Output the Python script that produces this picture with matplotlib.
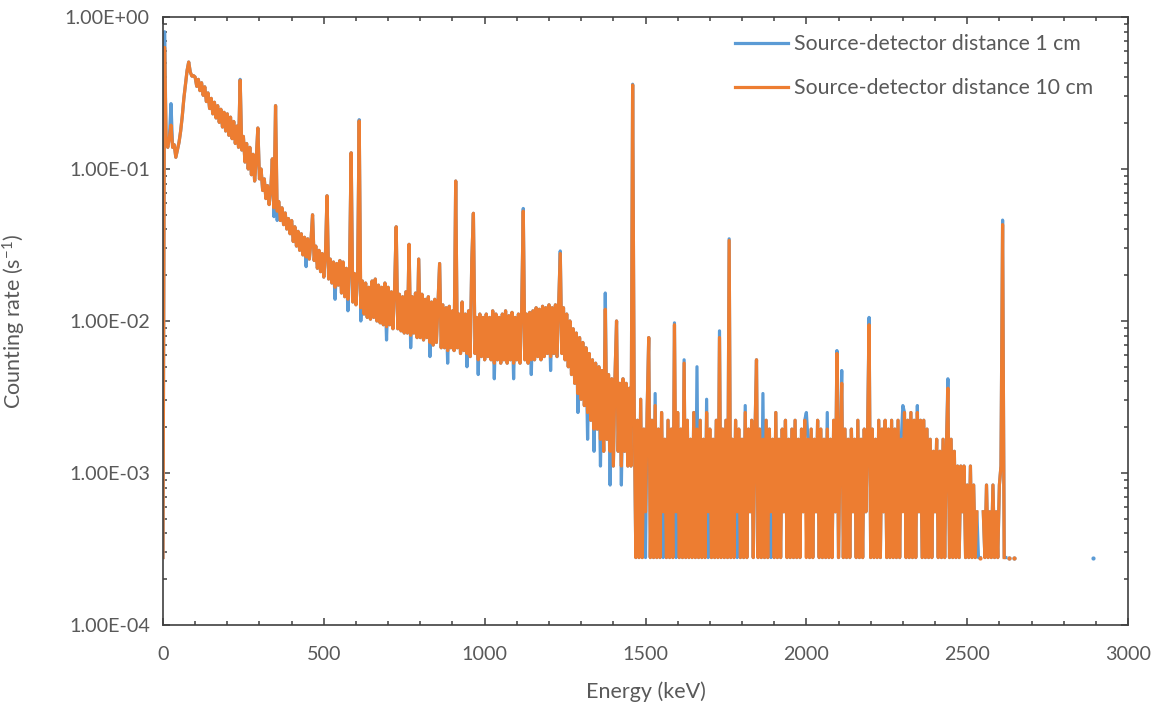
import numpy as np
import matplotlib.pyplot as plt
from matplotlib.ticker import MultipleLocator, LogLocator, FuncFormatter, NullFormatter

plt.rcParams['font.family'] = ['Lato', 'DejaVu Sans']
plt.rcParams['mathtext.fontset'] = 'custom'
plt.rcParams['mathtext.rm'] = 'Lato'
plt.rcParams['mathtext.default'] = 'regular'

# spectrum, counts per hour in 5 keV channels
# (rate in s^-1 = counts / 3600), 0 - 1460 keV
lo_counts = [
    1, 2270, 540, 500, 580, 700, 500, 520, 430, 480,
    540, 640, 800, 1050, 1300, 1600, 1820, 1560, 1470, 1480,
    1450, 1260, 1400, 1180, 1330, 1100, 1250, 1000, 1140, 900,
    1050, 830, 990, 780, 940, 730, 890, 680, 850, 640,
    830, 600, 790, 570, 740, 530, 690, 500, 1380, 480,
    590, 400, 530, 360, 500, 330, 450, 300, 420, 670,
    310, 360, 260, 310, 230, 280, 210, 260, 420, 200,
    940, 190, 220, 165, 200, 155, 185, 145, 170, 135,
    165, 120, 150, 112, 140, 105, 135, 98, 128, 95,
    125, 92, 120, 180, 90, 112, 80, 105, 76, 100,
    70, 96, 240, 68, 92, 64, 88, 60, 86, 62,
    90, 55, 88, 52, 80, 50, 78, 460, 48, 74,
    46, 70, 745, 44, 66, 40, 64, 38, 60, 37,
    66, 38, 68, 36, 62, 35, 60, 34, 64, 33,
    60, 34, 56, 32, 58, 150, 32, 54, 31, 52,
    30, 56, 30, 115, 29, 52, 30, 55, 28, 92,
    28, 54, 27, 50, 28, 52, 26, 48, 25, 50,
    26, 48, 86, 24, 46, 24, 44, 23, 45, 24,
    42, 23, 300, 24, 40, 22, 48, 23, 40, 22,
    42, 21, 90, 184, 22, 38, 20, 40, 21, 38,
    20, 40, 21, 38, 20, 42, 19, 40, 20, 38,
    19, 40, 20, 42, 19, 39, 20, 41, 19, 38,
    20, 40, 19, 42, 190, 20, 40, 19, 41, 20,
    42, 20, 44, 21, 43, 20, 45, 21, 44, 22,
    46, 21, 44, 22, 46, 21, 45, 100, 22, 44,
    20, 40, 18, 36, 16, 32, 14, 30, 12, 28,
    11, 26, 10, 24, 9, 22, 8, 20, 7, 19,
    7, 18, 6, 17, 5, 43, 6, 16, 5, 15,
    4, 15, 36, 5, 14, 4, 15, 5, 14, 4,
    13, 4, 1285,
]

# 1465 - 2660 keV
hi_counts = [
    9, 1, 8, 1, 11, 1, 7, 2, 9, 28, 1, 8, 1, 10, 1, 7, 1, 9, 2, 6,
    1, 8, 1, 7, 1, 34, 2, 9, 1, 7, 1, 19, 1, 8, 1, 6, 1, 9, 1, 7,
    1, 8, 1, 6, 1, 9, 2, 7, 1, 6, 1, 8, 1, 28, 1, 7, 1, 8, 1, 122,
    1, 6, 1, 8, 2, 7, 1, 6, 1, 9, 1, 7, 2, 8, 1, 6, 20, 1, 7, 1,
    6, 1, 8, 1, 7, 2, 6, 1, 9, 1, 6, 1, 7, 2, 8, 1, 6, 1, 7, 1,
    8, 1, 6, 1, 7, 2, 8, 1, 6, 1, 7, 1, 6, 2, 8, 1, 7, 1, 6, 1,
    7, 1, 6, 1, 8, 2, 22, 1, 6, 14, 1, 7, 1, 6, 1, 7, 2, 6, 1, 8,
    1, 6, 1, 7, 2, 6, 34, 1, 7, 1, 6, 1, 8, 1, 7, 2, 8, 1, 7, 1,
    8, 1, 7, 1, 8, 1, 6, 2, 9, 1, 8, 1, 9, 1, 8, 1, 9, 2, 8, 1,
    8, 1, 7, 1, 6, 1, 5, 2, 6, 1, 5, 1, 6, 1, 5, 13, 1, 6, 1, 5,
    1, 4, 1, 4, 2, 4, 1, 3, 1, 4, 1, 3, 1, 2, 0, 1, 0, 2, 1, 3,
    1, 2, 1, 3, 1, 2, 1, 3, 4, 155, 1, 0, 0, 1, 0, 0, 1, 0, 0, 0,
]

# channels where the 1 cm series differs from the 10 cm one (keV: counts/h)
blue_diff = {
    0: 1, 5: 2880, 25: 970, 240: 1400, 345: 175, 355: 165, 445: 82,
    535: 50, 575: 42, 610: 760, 615: 36, 695: 27, 770: 24, 830: 21,
    885: 19, 945: 18, 980: 16, 1030: 15, 1090: 15, 1120: 198, 1145: 16,
    1205: 17, 1235: 104, 1290: 9, 1320: 6, 1340: 5, 1360: 4, 1375: 55,
    1390: 3, 1425: 3, 1460: 1300, 1500: 1, 1530: 12, 1555: 1, 1590: 35,
    1595: 1, 1620: 20, 1660: 18, 1690: 11, 1695: 1, 1730: 31, 1760: 125,
    1785: 1, 1810: 10, 1865: 12, 1890: 1, 2000: 9, 2065: 9, 2095: 23,
    2110: 17, 2195: 38, 2300: 10, 2345: 10, 2440: 15, 2535: 1, 2610: 166,
    2620: 1,
}
blue_tail_e = [2885, 2890]
blue_tail = [0, 1]

energy = np.concatenate([np.arange(0, 5 * len(lo_counts), 5),
                         1465 + 5 * np.arange(len(hi_counts))])
orange = np.array(lo_counts + hi_counts, dtype=float)
blue = orange.copy()
for e, c in blue_diff.items():
    blue[energy == e] = c
blue_e = np.concatenate([energy, blue_tail_e])
blue = np.concatenate([blue, blue_tail])


def to_rate(c):
    r = np.array(c, dtype=float) / 3600.0
    r[r <= 0] = np.nan
    return r


c_blue = '#5B9BD5'
c_orange = '#ED7D31'
txt = '#595959'
axc = '#404040'

fig = plt.figure(figsize=(11.59, 7.09), dpi=100)
ax = fig.add_axes([0.1406, 0.1185, 0.8327, 0.8575])

for e, c, col, lab in [(blue_e, blue, c_blue, 'Source-detector distance 1 cm'),
                       (energy, orange, c_orange, 'Source-detector distance 10 cm')]:
    r = to_rate(c)
    ax.plot(e, r, color=col, lw=2.3, label=lab)
    # single channels between empty ones show up as dots
    ok = ~np.isnan(r)
    prev = np.concatenate([[False], ok[:-1]])
    nxt = np.concatenate([ok[1:], [False]])
    iso = ok & ~prev & ~nxt
    ax.plot(e[iso], r[iso], 'o', color=col, ms=3.0, mew=0)

ax.set_yscale('log')
ax.set_xlim(0, 3000)
ax.set_ylim(1e-4, 1)
ax.xaxis.set_major_locator(MultipleLocator(500))
ax.xaxis.set_minor_locator(MultipleLocator(100))
ax.yaxis.set_major_locator(LogLocator(base=10, numticks=10))
ax.yaxis.set_minor_locator(LogLocator(base=10, subs=np.arange(2, 10), numticks=50))
ax.yaxis.set_minor_formatter(NullFormatter())
ax.yaxis.set_major_formatter(FuncFormatter(lambda v, p: f'{v:.2E}'))

ax.tick_params(which='both', direction='in', top=True, right=True,
               color=axc, width=1.1, labelcolor=txt, labelsize=14.2)
ax.tick_params(which='major', length=5)
ax.tick_params(which='minor', length=3)
ax.tick_params(axis='y', pad=9.5)
ax.tick_params(axis='x', pad=15)
for s in ax.spines.values():
    s.set_color(axc)
    s.set_linewidth(1.2)

ax.set_xlabel('Energy (keV)', fontsize=15.5, color=txt)
ax.set_ylabel('Counting rate (s$^{-1}$)', fontsize=15.5, color=txt)
ax.xaxis.set_label_coords(0.5, -0.093)
ax.yaxis.set_label_coords(-0.140, 0.5)

leg = ax.legend(loc='upper left', bbox_to_anchor=(0.5927, 0.972), frameon=False,
                borderpad=0, handlelength=2.5, handletextpad=0.3,
                labelspacing=1.15, fontsize=15.3, borderaxespad=0)
for t in leg.get_texts():
    t.set_color(txt)

fig.savefig('out.png', dpi=100)
